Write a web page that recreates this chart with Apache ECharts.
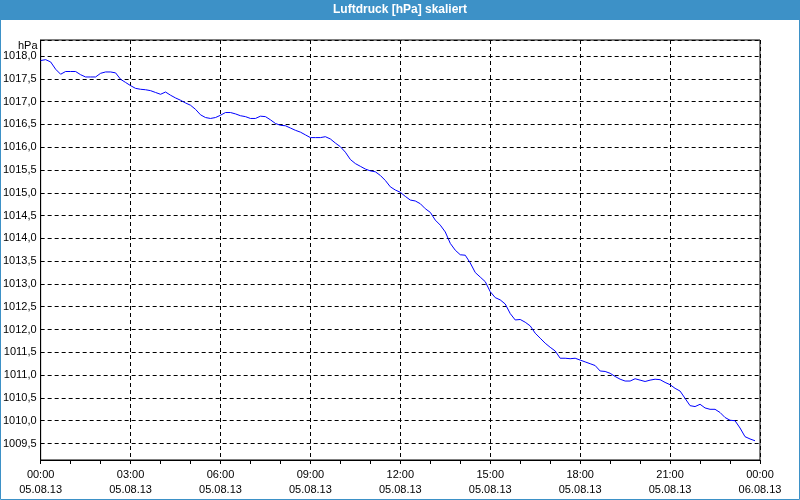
<!DOCTYPE html>
<html>
<head>
<meta charset="utf-8">
<script src="https://cdn.jsdelivr.net/npm/echarts@6/dist/echarts.min.js"></script>
<style>html,body{margin:0;padding:0;background:#fff}#c{width:800px;height:500px}</style>
</head>
<body>
<div id="c"></div>
<script>
const chartTitle = 'Luftdruck [hPa] skaliert';
const unitLabel = 'hPa';
const sampleMinutes = 10; // one reading every 10 minutes, starting 05.08.13 00:00
const xTickLabels = ['00:00\n05.08.13','03:00\n05.08.13','06:00\n05.08.13','09:00\n05.08.13','12:00\n05.08.13','15:00\n05.08.13','18:00\n05.08.13','21:00\n05.08.13','00:00\n06.08.13'];
const pressure = [
  1017.90,1017.92,1017.87,1017.71,1017.60,1017.66,1017.66,1017.66,1017.59,1017.54,1017.54,1017.54,
  1017.62,1017.65,1017.65,1017.63,1017.49,1017.42,1017.35,1017.29,1017.27,1017.26,1017.24,1017.20,
  1017.16,1017.21,1017.14,1017.08,1017.03,1016.97,1016.92,1016.83,1016.71,1016.65,1016.63,1016.65,
  1016.70,1016.76,1016.76,1016.73,1016.69,1016.67,1016.63,1016.63,1016.68,1016.67,1016.60,1016.52,
  1016.48,1016.47,1016.42,1016.37,1016.33,1016.27,1016.21,1016.21,1016.21,1016.23,1016.18,1016.09,
  1016.01,1015.89,1015.73,1015.64,1015.58,1015.52,1015.48,1015.46,1015.38,1015.27,1015.13,1015.06,
  1015.01,1014.92,1014.84,1014.82,1014.76,1014.65,1014.57,1014.40,1014.29,1014.14,1013.89,1013.74,
  1013.64,1013.63,1013.46,1013.25,1013.15,1013.05,1012.83,1012.70,1012.65,1012.56,1012.35,1012.21,
  1012.22,1012.16,1012.08,1011.92,1011.81,1011.70,1011.61,1011.53,1011.37,1011.37,1011.36,1011.37,
  1011.33,1011.29,1011.25,1011.21,1011.09,1011.08,1011.04,1010.97,1010.91,1010.87,1010.87,1010.92,
  1010.89,1010.86,1010.89,1010.91,1010.90,1010.84,1010.79,1010.71,1010.65,1010.49,1010.33,1010.31,
  1010.36,1010.28,1010.25,1010.25,1010.18,1010.07,1010.01,1010.00,1009.84,1009.65,1009.60,1009.56
];
const yMin = 1009.138, yMax = 1018.351;

const FONT = 'Liberation Sans';
const chart = echarts.init(document.getElementById('c'), null, {renderer: 'canvas'});
chart.setOption({
  animation: false,
  backgroundColor: '#ffffff',
  title: {
    text: chartTitle, left: 'center', top: 4, padding: 0,
    textStyle: {color: '#ffffff', fontSize: 12, fontWeight: 'bold', fontFamily: FONT, lineHeight: 12}
  },
  graphic: [
    {type: 'rect', z: -1, shape: {x: 0, y: 0, width: 800, height: 20}, style: {fill: '#3d91c7'}},
    {type: 'rect', z: 100, shape: {x: 0.5, y: 0.5, width: 799, height: 499}, style: {fill: null, stroke: '#3d91c7', lineWidth: 1}},
    {type: 'text', left: 18, top: 40, style: {text: unitLabel, font: '11px "Liberation Sans"', fill: '#000'}}
  ],
  grid: {left: 40, right: 40, top: 40, bottom: 40, show: true, borderColor: '#000', borderWidth: 1, backgroundColor: 'transparent'},
  xAxis: {
    type: 'value', min: 0, max: 24, interval: 3,
    axisLine: {show: true, lineStyle: {color: '#000', width: 1}},
    axisTick: {show: true, length: 4, lineStyle: {color: '#000'}},
    minorTick: {show: true, splitNumber: 3, length: 4, lineStyle: {color: '#000'}},
    splitLine: {show: true, lineStyle: {color: '#000', type: [4, 3], width: 1}},
    axisLabel: {
      color: '#000', fontFamily: FONT, fontSize: 11, lineHeight: 15, margin: 7,
      formatter: v => xTickLabels[Math.round(v / 3)]
    }
  },
  yAxis: {
    type: 'value', min: yMin, max: yMax, splitNumber: 18,
    axisLine: {show: true, lineStyle: {color: '#000', width: 1}},
    axisTick: {show: false},
    splitLine: {show: true, lineStyle: {color: '#000', type: [4, 3], width: 1}},
    axisLabel: {
      color: '#000', fontFamily: FONT, fontSize: 11, margin: 4, padding: [3, 0, 0, 0],
      showMinLabel: false, showMaxLabel: false,
      formatter: v => v.toFixed(1).replace('.', ',')
    }
  },
  series: [{
    type: 'line', showSymbol: false, symbol: 'none',
    lineStyle: {color: '#0000ff', width: 1},
    data: pressure.map((v, i) => [i * sampleMinutes / 60, v])
  }]
});
</script>
</body>
</html>
